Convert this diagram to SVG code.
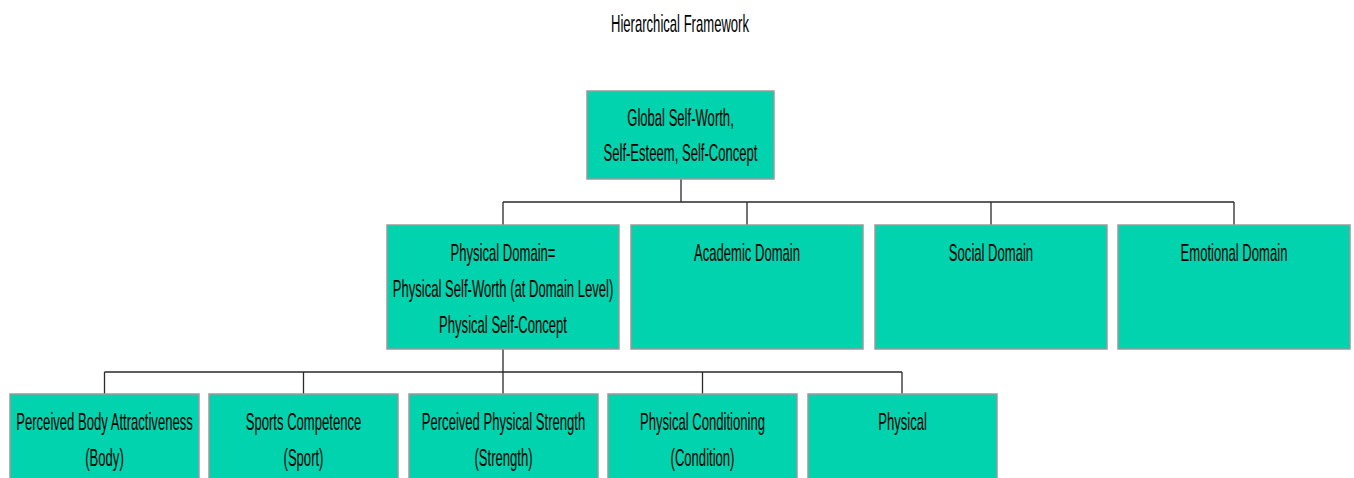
<svg xmlns="http://www.w3.org/2000/svg" width="1354" height="478" viewBox="0 0 1354 478">
  <style>
    .box { fill: #00d3ad; stroke: #9a9a9a; stroke-width: 1.5; }
    .lbl { font-family: "Liberation Sans", Arial, sans-serif; font-size: 24px; fill: #000; text-anchor: middle; }
    .conn { fill: none; stroke: #2a2a2a; stroke-width: 1.3; }
  </style>
  <rect width="1354" height="478" fill="#ffffff"/>

  <!-- title -->
  <text class="lbl" transform="translate(680,32) scale(0.545,1)">Hierarchical Framework</text>

  <!-- connectors -->
  <g id="connectors">
    <path class="conn" d="M681,179 V202 M503,202 H1234 M503,202 V225 M747,202 V225 M991,202 V225 M1234,202 V225"/>
    <path class="conn" d="M503,349 V372 M104.5,372 H902 M104.5,372 V394 M303.5,372 V394 M503,372 V394 M702.5,372 V394 M902,372 V394"/>
  </g>

  <!-- level 1 -->
  <g id="global">
    <rect class="box" x="587" y="91" width="187" height="88"/>
    <text class="lbl" transform="translate(680.5,126) scale(0.545,1)">Global Self-Worth,</text>
    <text class="lbl" transform="translate(680.5,161) scale(0.545,1)">Self-Esteem, Self-Concept</text>
  </g>

  <!-- level 2 -->
  <g id="physical-domain">
    <rect class="box" x="387" y="225" width="232" height="124"/>
    <text class="lbl" transform="translate(503,261) scale(0.545,1)">Physical Domain=</text>
    <text class="lbl" transform="translate(503,297) scale(0.545,1)">Physical Self-Worth (at Domain Level)</text>
    <text class="lbl" transform="translate(503,333) scale(0.545,1)">Physical Self-Concept</text>
  </g>
  <g id="academic-domain">
    <rect class="box" x="631" y="225" width="232" height="124"/>
    <text class="lbl" transform="translate(747,261) scale(0.545,1)">Academic Domain</text>
  </g>
  <g id="social-domain">
    <rect class="box" x="875" y="225" width="232" height="124"/>
    <text class="lbl" transform="translate(991,261) scale(0.545,1)">Social Domain</text>
  </g>
  <g id="emotional-domain">
    <rect class="box" x="1118" y="225" width="232" height="124"/>
    <text class="lbl" transform="translate(1234,261) scale(0.545,1)">Emotional Domain</text>
  </g>

  <!-- level 3 -->
  <g id="body">
    <rect class="box" x="10" y="394" width="189" height="90"/>
    <text class="lbl" transform="translate(104.5,430) scale(0.545,1)">Perceived Body Attractiveness</text>
    <text class="lbl" transform="translate(104.5,466) scale(0.545,1)">(Body)</text>
  </g>
  <g id="sport">
    <rect class="box" x="209" y="394" width="189" height="90"/>
    <text class="lbl" transform="translate(303.5,430) scale(0.545,1)">Sports Competence</text>
    <text class="lbl" transform="translate(303.5,466) scale(0.545,1)">(Sport)</text>
  </g>
  <g id="strength">
    <rect class="box" x="409" y="394" width="189" height="90"/>
    <text class="lbl" transform="translate(503.5,430) scale(0.545,1)">Perceived Physical Strength</text>
    <text class="lbl" transform="translate(503.5,466) scale(0.545,1)">(Strength)</text>
  </g>
  <g id="condition">
    <rect class="box" x="608" y="394" width="189" height="90"/>
    <text class="lbl" transform="translate(702.5,430) scale(0.545,1)">Physical Conditioning</text>
    <text class="lbl" transform="translate(702.5,466) scale(0.545,1)">(Condition)</text>
  </g>
  <g id="physical">
    <rect class="box" x="808" y="394" width="189" height="90"/>
    <text class="lbl" transform="translate(902.5,430) scale(0.545,1)">Physical</text>
  </g>
</svg>
